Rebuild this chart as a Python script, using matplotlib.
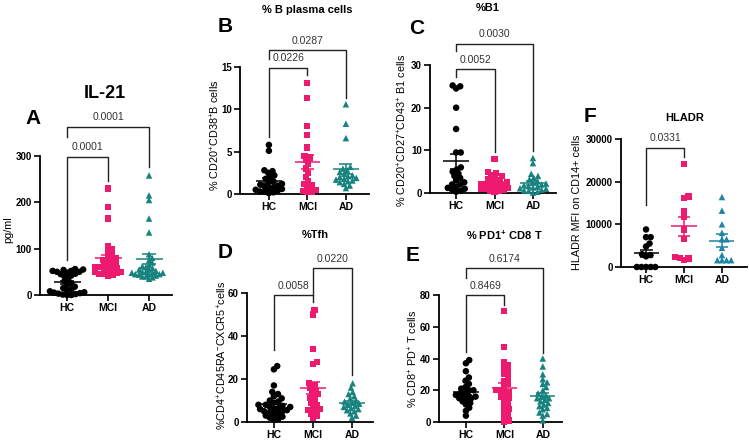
import numpy as np
import matplotlib
matplotlib.use('Agg')
import matplotlib.pyplot as plt

plt.rcParams['font.family'] = ['Liberation Sans', 'DejaVu Sans']
plt.rcParams['mathtext.default'] = 'regular'

W, H = 749, 440
groups = ['HC', 'MCI', 'AD']

# IL-21 (pg/ml)
il21_hc = [0, 0, 1, 2, 3, 4, 5, 6, 8, 10, 12, 15, 18, 22, 25, 30, 35, 40, 42, 45, 46, 48, 50, 50, 52, 52, 54, 55, 56]
il21_mci = [42, 44, 45, 46, 48, 50, 50, 52, 55, 55, 58, 60, 60, 62, 65, 68, 70, 72, 75, 78, 80, 85, 90, 95, 100, 105, 165, 190, 230]
il21_ad = [35, 38, 40, 40, 42, 44, 45, 45, 45, 48, 48, 48, 50, 50, 52, 55, 55, 58, 60, 62, 65, 70, 75, 80, 88, 135, 165, 205, 215, 258]

# % B plasma cells
bpl_hc = [0.1, 0.2, 0.3, 0.3, 0.4, 0.5, 0.6, 0.7, 0.8, 0.9, 1.0, 1.1, 1.2, 1.4, 1.5, 1.8, 2.0, 2.2, 2.5, 2.7, 2.8, 5.1, 5.8]
bpl_mci = [0.2, 0.3, 0.4, 0.5, 0.8, 1.0, 1.2, 1.5, 2.0, 2.5, 3.0, 3.5, 4.0, 4.3, 4.5, 5.5, 7.0, 8.0, 11.3, 13.1]
bpl_ad = [0.7, 1.0, 1.2, 1.4, 1.5, 1.6, 1.7, 1.8, 1.9, 2.0, 2.1, 2.2, 2.4, 2.6, 2.8, 3.0, 3.2, 6.6, 8.3, 10.6]

# % B1
b1_hc = [0.3, 0.5, 0.8, 1.0, 1.2, 1.5, 2.0, 2.0, 2.5, 3.0, 3.5, 4.0, 4.5, 5.0, 5.5, 6.0, 9.5, 9.5, 15.0, 20.0, 24.5, 25.0, 25.2]
b1_mci = [0.2, 0.4, 0.5, 0.7, 0.9, 1.0, 1.2, 1.4, 1.5, 1.7, 1.9, 2.0, 2.2, 2.4, 2.6, 2.8, 3.0, 3.3, 3.6, 4.0, 4.3, 4.7, 5.0, 8.0]
b1_ad = [0.1, 0.3, 0.5, 0.6, 0.8, 1.0, 1.1, 1.3, 1.5, 1.6, 1.8, 2.0, 2.2, 2.5, 2.8, 3.2, 3.6, 4.0, 4.5, 7.0, 8.2]

# % Tfh
tfh_hc = [1, 1.5, 2, 2.5, 3, 3.5, 4, 4.5, 5, 5, 5.5, 6, 6, 6.5, 7, 7, 7.5, 8, 8, 9, 9.5, 10, 11, 12, 13, 14, 17, 24.5, 26]
tfh_mci = [2, 3, 4, 5, 5.5, 6, 7, 8, 9, 10, 11, 12, 13, 14, 15, 16, 17, 18, 27, 28, 34, 50, 52]
tfh_ad = [2, 3, 4, 5, 5.5, 6, 6.5, 7, 7.5, 8, 8.5, 9, 9.5, 10, 11, 12, 13, 14, 16, 18]

# % PD1+ CD8 T
pd1_hc = [4, 7, 9, 11, 12, 13, 14, 15, 15, 16, 16, 17, 17, 18, 19, 20, 20, 21, 22, 24, 26, 28, 32, 37, 39]
pd1_mci = [0, 1, 3, 5, 7, 8, 10, 12, 14, 15, 16, 18, 19, 20, 20, 22, 24, 26, 28, 30, 32, 34, 36, 38, 47, 70]
pd1_ad = [1, 4, 5, 6, 8, 9, 10, 11, 12, 13, 14, 15, 15, 16, 17, 18, 20, 22, 24, 25, 27, 30, 35, 40]

# HLADR MFI
hla_hc = [0, 0, 0, 0, 0, 2500, 2800, 3000, 4800, 5500, 7000, 7000, 8800]
hla_mci = [1700, 2000, 2200, 2300, 6500, 8800, 11800, 13000, 16200, 16500, 24200]
hla_ad = [1600, 1600, 1600, 1600, 2800, 4500, 6500, 6500, 8000, 10000, 13200, 16400]

BLACK = '#000000'
PINK = '#EE1A70'
TEAL = '#17827E'
TEAL2 = '#1D86A4'


def px(x, y):
    return x / W, 1 - y / H


def swarm(ax, x0, vals, d, maxw):
    pts = ax.transData.transform([(x0, v) for v in vals])
    ys = pts[:, 1]
    xs = np.zeros(len(vals))
    placed = []
    for i in np.argsort(ys, kind='stable'):
        y = ys[i]
        cands = [0.0]
        for (qx, qy) in placed:
            dy = y - qy
            if abs(dy) < d:
                dx = np.sqrt(d * d - dy * dy)
                cands += [qx + dx, qx - dx]
        cands.sort(key=abs)
        for c in cands:
            if all((c - qx) ** 2 + (y - qy) ** 2 >= d * d - 1e-6 for qx, qy in placed):
                xs[i] = c
                break
        placed.append((xs[i], y))
    # squeeze wide swarms into the category slot
    unit = ax.transData.transform([(1, 0)])[0, 0] - ax.transData.transform([(0, 0)])[0, 0]
    lim = maxw * unit
    if np.abs(xs).max() > lim:
        xs = xs * lim / np.abs(xs).max()
    disp = np.column_stack([pts[:, 0] + xs, ys])
    return ax.transData.inverted().transform(disp)


def panel(fig, box, xlim, ylim, yticks, data, colors, brackets):
    left, right, y0, y1 = box
    ax = fig.add_axes([left / W, 1 - y0 / H, (right - left) / W, (y0 - y1) / H])
    ax.set_xlim(*xlim)
    ax.set_ylim(*ylim)
    for s in ['top', 'right']:
        ax.spines[s].set_visible(False)
    for s in ['left', 'bottom']:
        ax.spines[s].set_linewidth(1.3)
    ax.spines['left'].set_bounds(ylim[0], ylim[1])
    ax.set_yticks(yticks)
    ax.set_yticklabels([str(t) for t in yticks], fontsize=7, fontweight='bold')
    ax.set_xticks(range(3))
    ax.set_xticklabels(groups, fontsize=7.5, fontweight='bold')
    ax.tick_params(axis='both', direction='out', length=4, width=1.2, pad=2)
    markers = ['o', 's', '^']
    rng = ylim[1] - ylim[0]
    for i, (vals, c) in enumerate(zip(data, colors)):
        v = np.array(vals, dtype=float)
        xy = swarm(ax, i, v, 4.6, 0.42)
        ax.scatter(xy[:, 0], xy[:, 1], marker=markers[i], s=22 if i != 1 else 20,
                   color=c, edgecolors='none', clip_on=False, zorder=3)
        m = v.mean()
        sem = v.std(ddof=1) / np.sqrt(len(v))
        ax.hlines(m, i - 0.33, i + 0.33, color=c, lw=1.1, zorder=4)
        ax.vlines(i, m - sem, m + sem, color=c, lw=1.1, zorder=4)
        ax.hlines([m - sem, m + sem], i - 0.17, i + 0.17, color=c, lw=1.1, zorder=4)
    for (a, b, top, ya, yb, label) in brackets:
        ax.plot([a, a, b, b], [ya, top, top, yb], color='#222222', lw=1.0, clip_on=False)
        ax.text((a + b) / 2, top + rng * 0.035, label, ha='center', va='bottom',
                fontsize=7.5, color='#333333', clip_on=False)
    return ax


fig = plt.figure(figsize=(W / 100, H / 100), dpi=100)

panel(fig, (40, 172, 295, 156), (-0.66, 2.56), (0, 300), [0, 100, 200, 300],
      [il21_hc, il21_mci, il21_ad], [BLACK, PINK, TEAL],
      [(0, 1, 298, 75, 245, '0.0001'), (0, 2, 362, 340, 276, '0.0001')])
panel(fig, (240, 369, 194, 67), (-0.75, 2.6), (0, 15), [0, 5, 10, 15],
      [bpl_hc, bpl_mci, bpl_ad], [BLACK, PINK, TEAL],
      [(0, 1, 14.9, 6.7, 14.0, '0.0226'), (0, 2, 17.0, 16.0, 11.3, '0.0287')])
panel(fig, (430, 556, 193, 65), (-0.68, 2.6), (0, 30), [0, 10, 20, 30],
      [b1_hc, b1_mci, b1_ad], [BLACK, PINK, TEAL],
      [(0, 1, 29, 27.3, 9.6, '0.0052'), (0, 2, 35, 33.3, 9.8, '0.0030')])
panel(fig, (247, 373, 422, 293), (-0.69, 2.54), (0, 60), [0, 20, 40, 60],
      [tfh_hc, tfh_mci, tfh_ad], [BLACK, PINK, TEAL],
      [(0, 1, 59, 33.5, 56, '0.0058'), (1, 2, 71.6, 59, 22, '0.0220')])
panel(fig, (439, 562, 422, 295), (-0.70, 2.5), (0, 80), [0, 20, 40, 60, 80],
      [pd1_hc, pd1_mci, pd1_ad], [BLACK, PINK, TEAL],
      [(0, 1, 80, 44, 74, '0.8469'), (0, 2, 97, 91, 43.5, '0.6174')])
panel(fig, (621, 747, 267, 139), (-0.66, 2.66), (0, 30000), [0, 10000, 20000, 30000],
      [hla_hc, hla_mci, hla_ad], [BLACK, PINK, TEAL2],
      [(0, 1, 27900, 14500, 25800, '0.0331')])

# titles
fig.text(*px(105, 93), 'IL-21', ha='center', va='center', fontsize=13, fontweight='bold')
fig.text(*px(307, 10), '% B plasma cells', ha='center', va='center', fontsize=8, fontweight='bold')
fig.text(*px(488, 8), '%B1', ha='center', va='center', fontsize=8, fontweight='bold')
fig.text(*px(315, 235), '%Tfh', ha='center', va='center', fontsize=8, fontweight='bold')
fig.text(*px(504, 235), '% PD1$^{+}$ CD8 T', ha='center', va='center', fontsize=8, fontweight='bold')
fig.text(*px(685, 118), 'HLADR', ha='center', va='center', fontsize=8, fontweight='bold')

# panel letters
for lab, x, y in [('A', 33, 118), ('B', 225, 26), ('C', 417, 28),
                  ('D', 225, 252), ('E', 413, 255), ('F', 590, 117)]:
    fig.text(*px(x, y), lab, ha='center', va='center', fontsize=15, fontweight='bold')

# y labels
for lab, x, y in [('pg/ml', 8, 230),
                  ('% CD20$^{+}$CD38$^{+}$B cells', 215, 135),
                  ('% CD20$^{+}$CD27$^{+}$CD43$^{+}$ B1 cells', 402, 130),
                  ('%CD4$^{+}$CD45RA$^{-}$CXCR5$^{+}$cells', 222, 355),
                  ('% CD8$^{+}$ PD$^{+}$ T cells', 413, 359),
                  ('HLADR MFI on CD14+ cells', 577, 202)]:
    fig.text(*px(x, y), lab, ha='center', va='center', rotation=90, fontsize=7.8)

fig.savefig('out.png', dpi=100)
